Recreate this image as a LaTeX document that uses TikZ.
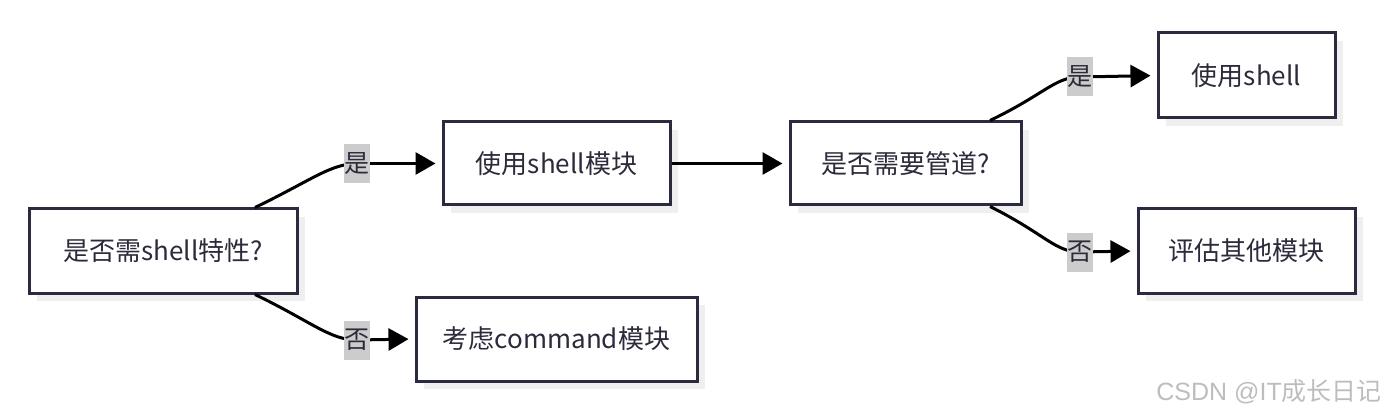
\documentclass[tikz,border=0pt]{standalone}
\usepackage{fontspec}
\setmainfont{Noto Sans CJK SC}
\newfontfamily\wmlatin{Liberation Sans}
\usetikzlibrary{arrows.meta,shadows}
\definecolor{boxline}{HTML}{2B2B40}
\definecolor{txt}{HTML}{2B2B3B}
\definecolor{lblbg}{HTML}{CCCCCC}
\definecolor{shadowc}{HTML}{EFEFEF}
\definecolor{wmc}{HTML}{BDBDBD}
\pgfdeclarelayer{fg}
\pgfsetlayers{main,fg}
\tikzset{
  box/.style={draw=boxline, line width=3pt, fill=white, text=txt, inner sep=0pt,
    font=\fontsize{26}{30}\selectfont,
    drop shadow={shadow xshift=8pt, shadow yshift=-8pt, fill=shadowc, opacity=1}},
  lbl/.style={fill=lblbg, text=txt, inner sep=0pt, minimum width=26pt, minimum height=39pt,
    font=\fontsize{25}{28}\selectfont},
  link/.style={line width=3pt, draw=black},
  edge/.style={line width=3pt, draw=black, -{Triangle[length=20pt,width=22pt]}, shorten >=6pt}
}
\begin{document}
\begin{tikzpicture}[x=1pt,y=-1pt]
\useasboundingbox (0,0) rectangle (1386,414);
\node[box, minimum width=268pt, minimum height=84pt] (A) at (163,251) {是否需shell特性?};
\node[box, minimum width=227pt, minimum height=83pt] (B) at (556.5,163.5) {使用shell模块};
\node[box, minimum width=281pt, minimum height=84pt] (C) at (556.5,339) {考虑command模块};
\node[box, minimum width=231pt, minimum height=83pt] (D) at (905.5,163.5) {是否需要管道?};
\node[box, minimum width=177pt, minimum height=85pt] (E) at (1246.5,75.5) {使用shell};
\node[box, minimum width=217pt, minimum height=84pt] (F) at (1246.5,251) {评估其他模块};
\begin{pgfonlayer}{fg}
\node[lbl] (l1) at (357,163.5) {是};
\node[lbl] (l2) at (357,340) {否};
\node[lbl] (l3) at (1080,77) {是};
\node[lbl] (l4) at (1080,252) {否};
\end{pgfonlayer}
\draw[link] ([xshift=92pt]A.north) .. controls (312,180) and (330,164) .. (l1.center);
\draw[edge] (l1.center) -- (B.west);
\draw[link] ([xshift=92pt]A.south) .. controls (312,322) and (330,340) .. (l2.center);
\draw[edge] (l2.center) -- (C.west);
\draw[edge] (B.east) -- (D.west);
\draw[link] ([xshift=84.5pt]D.north) .. controls (1045,94) and (1055,77) .. (l3.center);
\draw[edge] (l3.center) -- (E.west);
\draw[link] ([xshift=84.5pt]D.south) .. controls (1045,234) and (1055,252) .. (l4.center);
\draw[edge] (l4.center) -- (F.west);
\node[anchor=base east, text=wmc, font=\fontsize{25}{28}\selectfont, inner sep=0pt] (wm) at (1382,400) {{\wmlatin CSDN @IT}成长日记};
\end{tikzpicture}
\end{document}
